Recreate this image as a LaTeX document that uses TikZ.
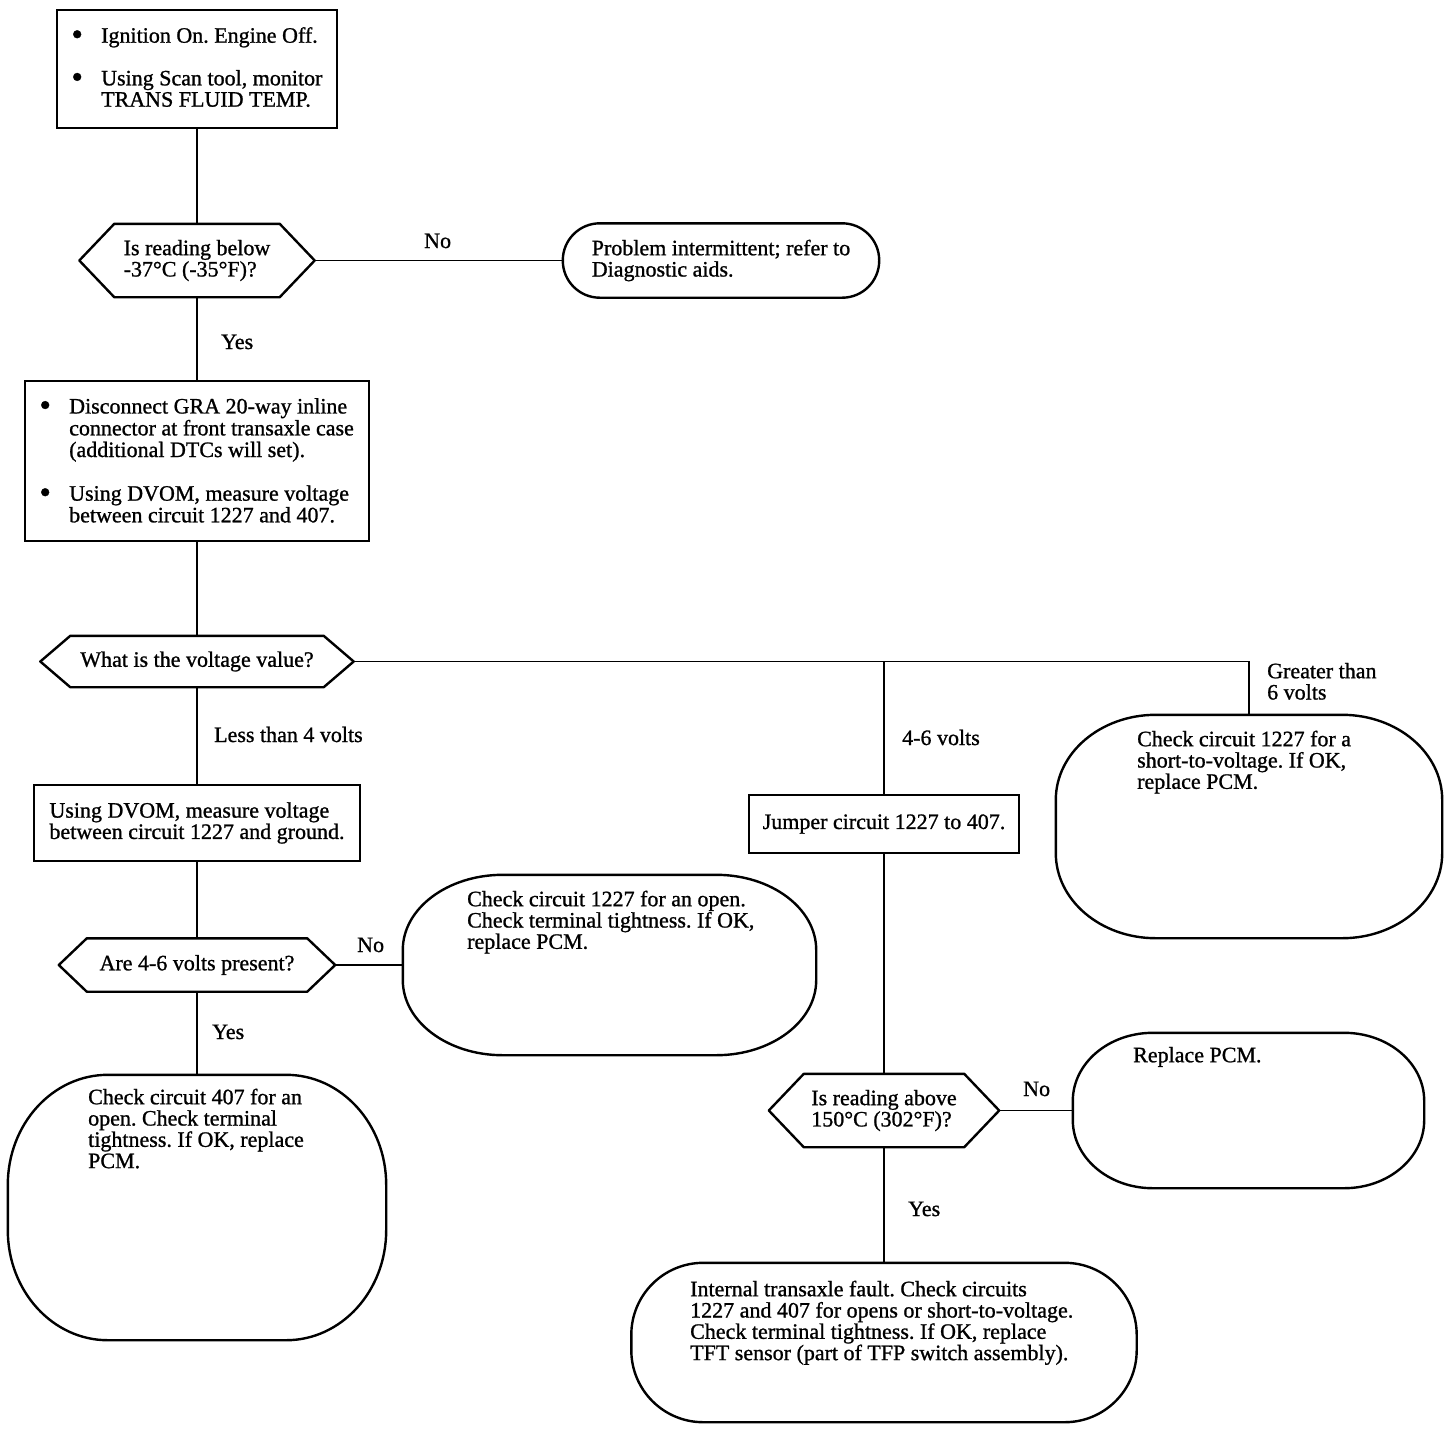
\documentclass[tikz,border=0pt]{standalone}
\usepackage{graphicx}
\usepackage{fontspec}
\setmainfont{Liberation Serif}[RawFeature={embolden=1}]
\frenchspacing
\newcommand\ovalframe[3]{%
  \draw[frame] ([xshift=#2pt]#1.north west) -- ([xshift=-#2pt]#1.north east)
    arc[start angle=90, end angle=0, x radius=#2pt, y radius=#3pt]
    -- ([yshift=#3pt]#1.south east)
    arc[start angle=0, end angle=-90, x radius=#2pt, y radius=#3pt]
    -- ([xshift=#2pt]#1.south west)
    arc[start angle=-90, end angle=-180, x radius=#2pt, y radius=#3pt]
    -- ([yshift=-#3pt]#1.north west)
    arc[start angle=180, end angle=90, x radius=#2pt, y radius=#3pt] -- cycle;}
\newcommand\hexframe[2]{%
  \draw[frame] (#1.west) -- ([xshift=#2pt]#1.north west) -- ([xshift=-#2pt]#1.north east)
    -- (#1.east) -- ([xshift=-#2pt]#1.south east) -- ([xshift=#2pt]#1.south west) -- cycle;}
\newcommand\bigbul{\makebox[8pt][c]{\raisebox{-2.5pt}{\scalebox{1.5}{\textbullet}}}}
\tikzset{
  frame/.style={line width=2.4pt, line join=round},
  conn/.style={line width=1.8pt},
  shp/.style={rectangle, inner sep=0pt, align=left},
  boxst/.style={rectangle, draw, line width=2.4pt, inner sep=0pt, align=left},
  txt/.style={inner sep=0pt, align=left, anchor=north west},
  tabtxt/.style={inner sep=0pt, anchor=north west},
  lbl/.style={inner sep=0pt, anchor=base west},
}
\begin{document}
\begin{tikzpicture}[x=1pt, y=-1pt, font=\fontsize{22}{21.3}\selectfont]
\fill[white] (0,0) rectangle (1456,1436);
\useasboundingbox (0,0) rectangle (1456,1436);

% top box
\node[boxst, minimum width=280pt, minimum height=118pt] (b1) at (197,69) {};
\node[tabtxt] (t1) at (73,27) {\begin{tabular}{@{}l@{\hspace{20pt}}l@{}}
\bigbul & Ignition On. Engine Off.\\[21pt]
\bigbul & Using Scan tool, monitor\\
 & TRANS FLUID TEMP.\end{tabular}};

% decision 1
\node[shp, minimum width=235pt, minimum height=73pt] (d1) at (197,260.5) {Is reading below\\-37°C (-35°F)?};
\hexframe{d1}{35}

\node[shp, minimum width=316pt, minimum height=74pt] (p1) at (721,260.5) {Problem intermittent; refer to\\Diagnostic aids.};
\ovalframe{p1}{37}{37}

% box 2
\node[boxst, minimum width=344pt, minimum height=160pt] (b2) at (197,461) {};
\node[tabtxt] (t2) at (41,398) {\begin{tabular}{@{}l@{\hspace{20pt}}l@{}}
\bigbul & Disconnect GRA 20-way inline\\
 & connector at front transaxle case\\
 & (additional DTCs will set).\\[22pt]
\bigbul & Using DVOM, measure voltage\\
 & between circuit 1227 and 407.\end{tabular}};

% decision 2
\node[shp, minimum width=313pt, minimum height=51pt] (d2) at (197,661.5) {What is the voltage value?};
\hexframe{d2}{30}

% box 3
\node[boxst, minimum width=326pt, minimum height=76pt] (b3) at (197,823) {Using DVOM, measure voltage\\between circuit 1227 and ground.};

% decision 3
\node[shp, minimum width=276pt, minimum height=53pt] (d3) at (197,965) {Are 4-6 volts present?};
\hexframe{d3}{28}

\node[shp, minimum width=413pt, minimum height=180pt] (b4) at (609.5,965) {};
\ovalframe{b4}{100}{75}
\node[txt] (t4) at (467,890) {\rule{0pt}{16pt}Check circuit 1227 for an open.\\Check terminal tightness. If OK,\\replace PCM.};

\node[shp, minimum width=378pt, minimum height=265pt] (b5) at (197,1207.5) {};
\ovalframe{b5}{100}{110}
\node[txt] (t5) at (88,1088) {\rule{0pt}{16pt}Check circuit 407 for an\\open. Check terminal\\tightness. If OK, replace\\PCM.};

% right branches
\node[boxst, minimum width=270pt, minimum height=58pt] (jump) at (884,824) {Jumper circuit 1227 to 407.};

\node[shp, minimum width=230pt, minimum height=73pt] (d4) at (884,1110.5) {Is reading above\\150°C (302°F)?};
\hexframe{d4}{35}

\node[shp, minimum width=351pt, minimum height=155pt] (b6) at (1248.5,1110.5) {};
\ovalframe{b6}{80}{68}
\node[txt] (t6) at (1133,1046) {\rule{0pt}{16pt}Replace PCM.};

\node[shp, minimum width=505pt, minimum height=159pt] (b7) at (884,1342.5) {};
\ovalframe{b7}{72}{72}
\node[txt] (t7) at (690,1280) {\rule{0pt}{16pt}Internal transaxle fault. Check circuits\\1227 and 407 for opens or short-to-voltage.\\Check terminal tightness. If OK, replace\\TFT sensor (part of TFP switch assembly).};

\node[shp, minimum width=386pt, minimum height=223pt] (b8) at (1249,826.5) {};
\ovalframe{b8}{100}{85}
\node[txt] (t8) at (1137,730) {\rule{0pt}{16pt}Check circuit 1227 for a\\short-to-voltage. If OK,\\replace PCM.};

% connectors
\draw[conn] (b1.south) -- (d1.north);
\draw[conn] (d1.east) -- (p1.west);
\draw[conn] (d1.south) -- (b2.north);
\draw[conn] (b2.south) -- (d2.north);
\draw[conn] (d2.south) -- (b3.north);
\draw[conn] (d2.east) -| (b8.north);
\coordinate (br) at (d2.east -| jump.north);
\draw[conn] (br) -- (jump.north);
\draw[conn] (b3.south) -- (d3.north);
\draw[conn] (d3.east) -- (b4.west);
\draw[conn] (d3.south) -- (b5.north);
\draw[conn] (jump.south) -- (d4.north);
\draw[conn] (d4.east) -- (b6.west);
\draw[conn] (d4.south) -- (b7.north);

% labels
\node[lbl] (l1) at (424,248) {No};
\node[lbl] (l2) at (221,349) {Yes};
\node[txt] (l3) at (1267,662) {\rule{0pt}{16pt}Greater than\\6 volts};
\node[lbl] (l4) at (902,745) {4-6 volts};
\node[lbl] (l5) at (214,742) {Less than 4 volts};
\node[lbl] (l6) at (357,952) {No};
\node[lbl] (l7) at (212,1039) {Yes};
\node[lbl] (l8) at (1023,1096) {No};
\node[lbl] (l9) at (908,1216) {Yes};
\end{tikzpicture}
\end{document}
